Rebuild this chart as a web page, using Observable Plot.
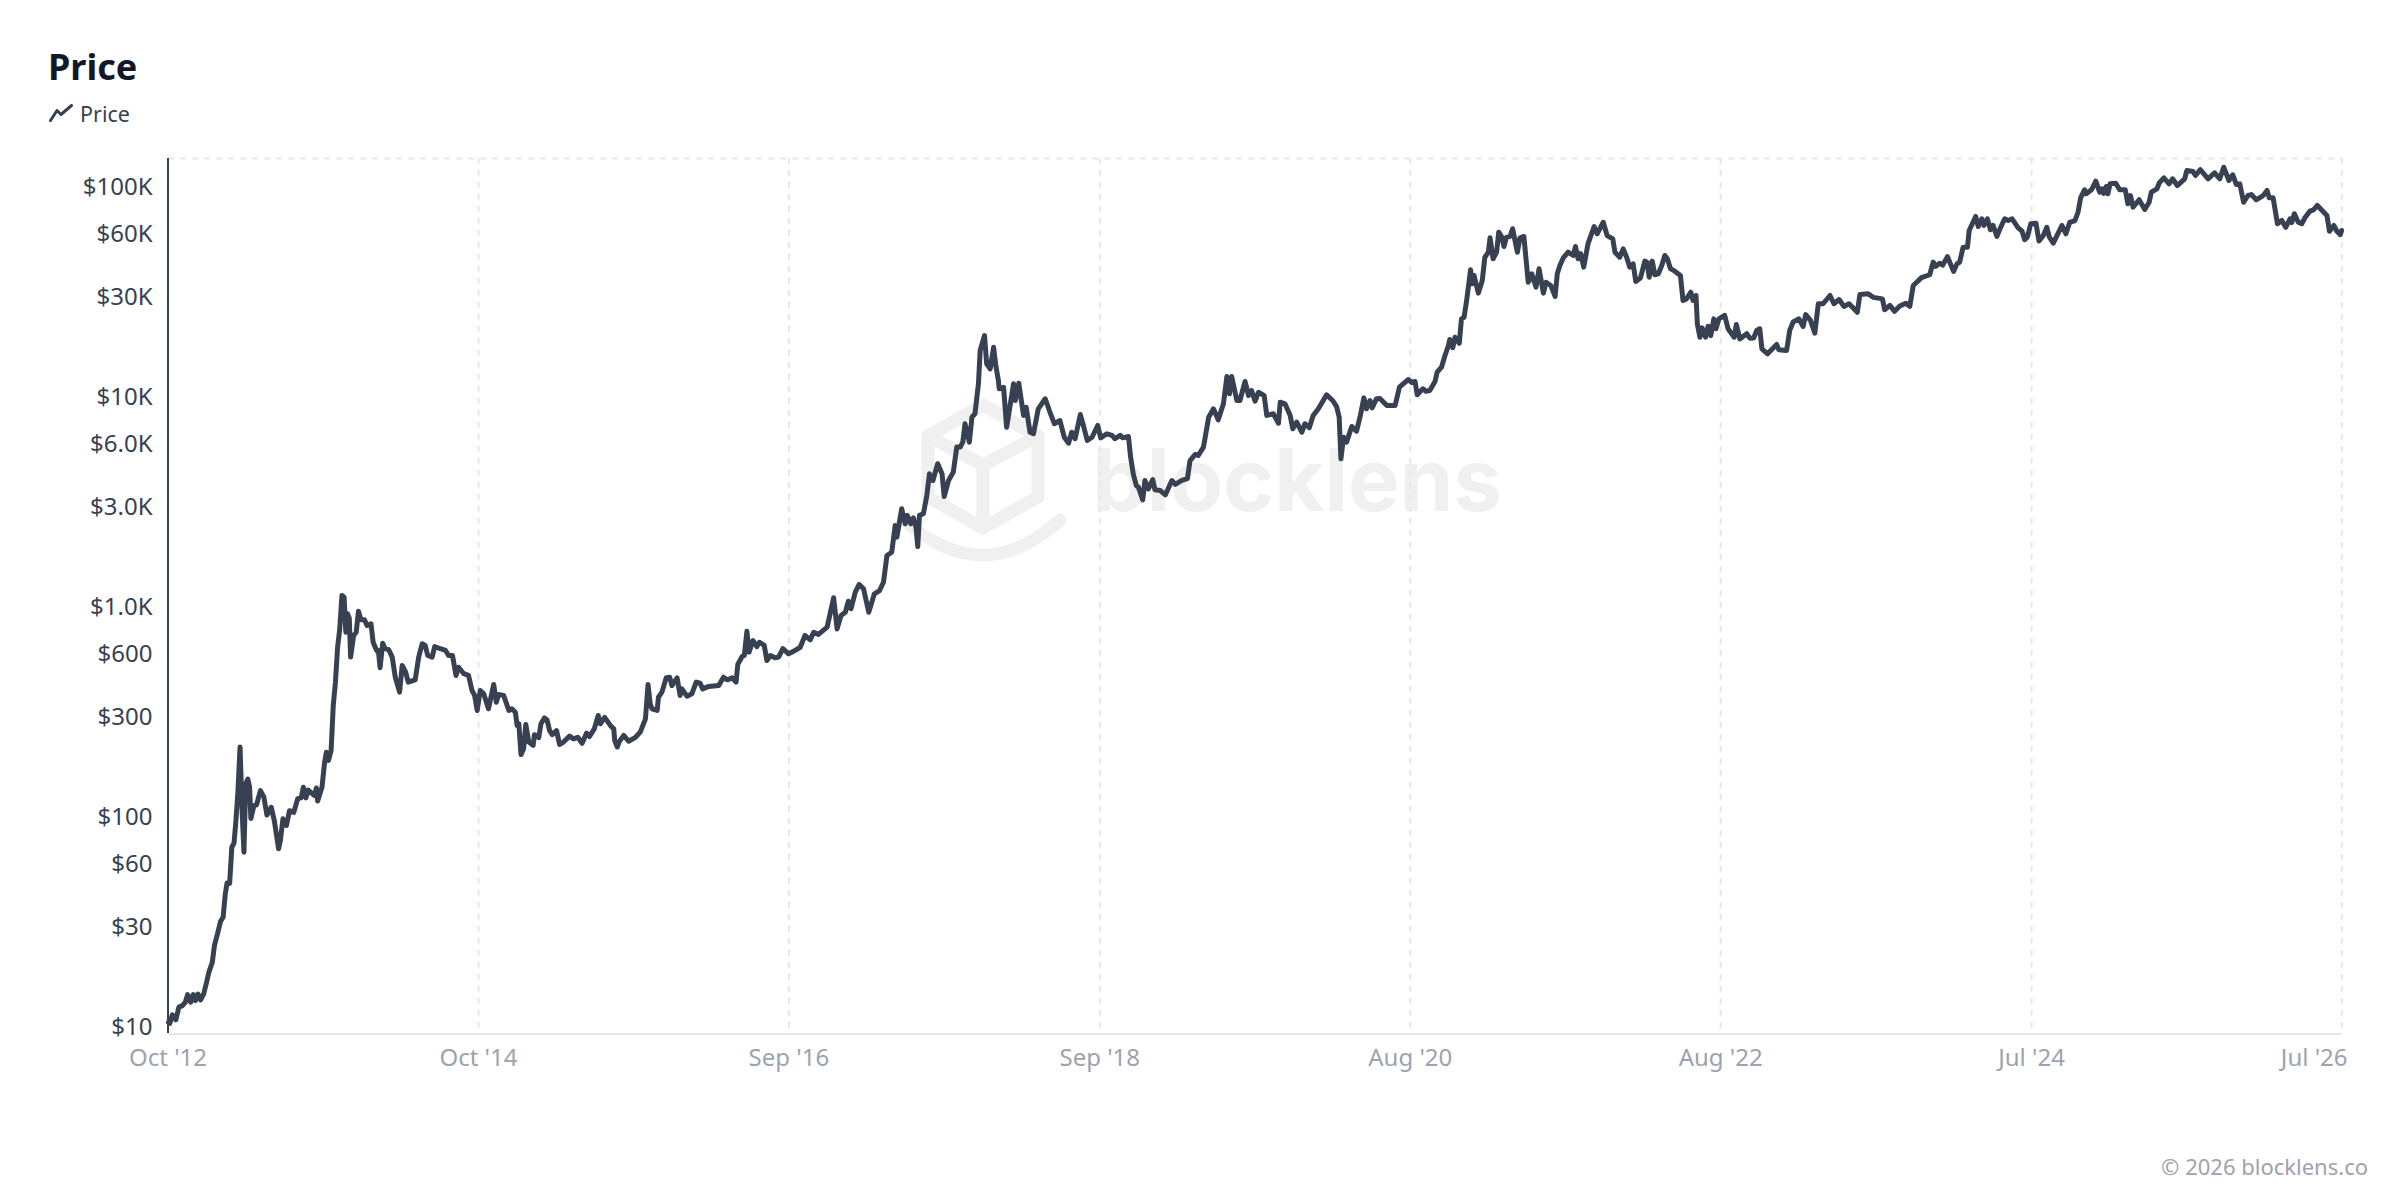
<!DOCTYPE html>
<html>
<head>
<meta charset="utf-8">
<script src="https://cdn.jsdelivr.net/npm/d3@7"></script>
<script src="https://cdn.jsdelivr.net/npm/@observablehq/plot@0.6"></script>
<style>
  html, body { margin: 0; padding: 0; background: #fff; }
  body { position: relative; width: 2400px; height: 1200px; overflow: hidden; font-family: "Noto Sans", sans-serif; }
  #head { position: relative; height: 100px; width: 2400px; }
  #title { position: absolute; left: 48px; top: 43px; font-size: 36px; line-height: 48px; font-weight: 700; color: #111827; }
  #legend { position: absolute; left: 49px; top: 97px; height: 32px; display: flex; align-items: center; color: #374151; font-size: 21.5px; }
  #legend svg { margin-right: 7px; }
  #mark { position: absolute; left: 0; top: 0; z-index: 0; }
  #chart { position: relative; z-index: 1; }
  #chart svg { background: transparent; }
  #foot { position: absolute; right: 32px; top: 1151px; font-size: 22px; line-height: 30px; color: #9ca3af; }
</style>
</head>
<body>
<svg id="mark" width="2400" height="1200" aria-hidden="true">
  <g fill="none" stroke="#f0f0f0" stroke-width="13" stroke-linejoin="round" stroke-linecap="round">
    <path d="M983 405 L1038 436 L1038 497 L983 528 L928 497 L928 436 Z"/>
    <path d="M928 436 L983 465 L1038 436 M983 465 L983 528"/>
    <path d="M904 520 Q983 590 1060 520"/>
  </g>
  <text x="1092" y="511" font-family="Inter" font-weight="700" font-size="86" fill="#f0f0f0" textLength="410" lengthAdjust="spacingAndGlyphs">blocklens</text>
</svg>
<div id="head">
  <div id="title">Price</div>
  <div id="legend"><svg width="24" height="18" viewBox="0 0 24 18"><polyline points="1.5,16.5 8,6.5 12,10.5 22.5,1.5" fill="none" stroke="#374151" stroke-width="3" stroke-linecap="round" stroke-linejoin="round"/></svg><span>Price</span></div>
</div>
<div id="chart"></div>
<div id="foot">© 2026 blocklens.co</div>
<script>
const seriesStart = "2012-10-15";
const seriesEnd = "2026-07-08";
const priceMin = 9.21;
const priceMax = 135200;

const tickDates = ["2012-10-15","2014-10-01","2016-09-16","2018-09-03","2020-08-19","2022-08-05","2024-07-22","2026-07-08"];
const tickLabels = ["Oct '12","Oct '14","Sep '16","Sep '18","Aug '20","Aug '22","Jul '24","Jul '26"];
const priceTicks = [10,30,60,100,300,600,1000,3000,6000,10000,30000,60000,100000];
const priceLabels = ["$10","$30","$60","$100","$300","$600","$1.0K","$3.0K","$6.0K","$10K","$30K","$60K","$100K"];

const daysSinceStart = [
0,3,9,17,24,32,39,44,51,57,62,68,74,81,88,93,101,106,114,120,
126,131,135,141,146,151,155,160,165,170,174,178,183,187,190,197,203,212,220,227,
237,244,254,258,264,272,279,289,298,306,311,317,322,331,337,341,344,354,360,364,
369,375,380,385,390,395,400,405,409,413,417,420,427,433,438,444,452,458,467,472,
480,484,488,494,500,508,516,523,533,539,547,553,569,577,585,592,598,608,614,627,
639,646,655,663,669,681,692,700,706,712,719,727,738,750,756,761,773,785,792,800,
804,808,813,819,824,831,841,844,854,859,867,873,879,885,895,902,911,925,934,944,
954,964,971,982,991,996,1006,1019,1027,1029,1035,1040,1050,1061,1077,1088,1100,1106,1111,1115,
1127,1130,1138,1148,1156,1161,1173,1180,1184,1196,1207,1217,1226,1232,1246,1269,1280,1289,1300,1309,
1313,1323,1328,1334,1339,1348,1357,1363,1374,1380,1388,1399,1407,1417,1430,1445,1457,1468,1480,1488,
1499,1519,1525,1534,1542,1551,1561,1568,1574,1584,1593,1603,1615,1628,1640,1649,1657,1668,1676,1680,
1691,1699,1704,1712,1718,1724,1728,1732,1741,1749,1755,1763,1774,1784,1789,1799,1810,1818,1826,1832,
1837,1847,1853,1860,1868,1872,1882,1887,1895,1903,1908,1914,1916,1926,1933,1949,1953,1961,1972,1978,
1987,1995,2006,2022,2033,2043,2056,2066,2076,2083,2091,2103,2110,2119,2130,2143,2150,2164,2176,2183,
2195,2201,2214,2219,2225,2232,2237,2247,2252,2260,2270,2275,2287,2299,2314,2322,2337,2350,2356,2368,
2375,2387,2395,2399,2410,2421,2433,2441,2447,2452,2464,2471,2483,2491,2498,2506,2514,2527,2533,2548,
2560,2564,2575,2587,2593,2602,2614,2621,2631,2640,2652,2671,2685,2694,2700,2704,2710,2717,2729,2740,
2748,2757,2763,2771,2776,2786,2794,2810,2829,2839,2859,2867,2875,2880,2893,2900,2909,2921,2926,2936,
2944,2952,2955,2962,2967,2977,2982,2988,2994,3003,3007,3011,3021,3030,3036,3044,3048,3055,3063,3068,
3075,3080,3086,3094,3100,3111,3117,3126,3136,3144,3154,3161,3171,3177,3188,3198,3203,3209,3217,3228,
3240,3245,3251,3257,3264,3274,3288,3295,3309,3318,3331,3336,3347,3355,3363,3370,3378,3384,3395,3405,
3410,3415,3422,3428,3436,3444,3451,3457,3464,3474,3487,3493,3501,3511,3516,3523,3526,3532,3537,3545,
3551,3557,3564,3569,3576,3589,3597,3611,3616,3624,3640,3647,3656,3663,3670,3675,3688,3709,3714,3732,
3739,3747,3760,3770,3776,3787,3797,3805,3816,3832,3841,3853,3864,3876,3895,3901,3920,3932,3953,3958,
3970,3981,3993,4007,4016,4024,4043,4062,4070,4076,4085,4092,4103,4117,4125,4131,4139,4149,4153,4168,
4174,4182,4187,4195,4202,4208,4217,4225,4235,4243,4252,4266,4275,4281,4287,4295,4307,4314,4324,4332,
4338,4347,4367,4376,4385,4397,4404,4410,4419,4423,4435,4445,4454,4459,4463,4469,4473,4478,4491,4500,
4513,4519,4525,4531,4545,4558,4568,4573,4586,4591,4602,4614,4622,4633,4650,4655,4669,4675,4686,4704,
4719,4731,4740,4752,4761,4769,4777,4786,4796,4804,4815,4831,4840,4845,4854,4864,4874,4883,4893,4897,
4903,4912,4920,4928,4939,4947,4956,4967,4978,4984,4994,5001,5009,5012
];

const prices = [
10.4,10.3,11.3,10.7,12.3,12.5,13.0,14.1,13.0,14.1,13.2,14.2,13.3,14.2,16.2,18.0,20.1,24.2,28.0,31.5,
33.0,42.6,47.9,47.7,71,74.1,92,130,213,103,67.2,142,150,137,97.3,112,113,132,123,101,
110,95,69.8,76.4,97,90.1,106,104,121,122,137,122,133,128,125,136,118,137,180,201,
184,205,336,434,636,778,1122,1101,750,918,872,571,724,750,945,860,860,808,823,672,
614,614,508,665,626,619,571,458,389,521,484,434,445,571,661,649,581,571,641,626,
614,581,581,467,511,476,467,396,375,318,396,382,324,423,348,379,375,318,324,312,
270,275,196,209,273,225,217,244,236,275,293,287,255,244,255,219,225,240,233,237,
222,248,239,260,301,275,295,270,260,229,213,227,242,227,237,251,290,423,342,324,
318,368,389,455,458,418,455,375,403,372,382,434,429,403,414,418,458,445,455,434,
527,575,581,759,603,685,641,672,649,550,581,567,571,626,592,614,636,724,690,750,
732,793,901,1094,778,901,934,1054,970,1163,1266,1208,934,1143,1185,1298,1740,1803,2420,2128,
2905,2463,2700,2463,2630,2370,1920,2700,2750,3360,4260,3960,4760,4260,3320,3960,4340,5710,5710,6030,
7380,6030,7930,8230,11430,16470,19400,14230,13470,17080,13970,11850,10820,11010,7100,11430,9520,11510,8080,8840,
6720,6610,8690,9700,8370,7380,7640,6360,5960,6720,6260,8160,7240,6140,6360,7240,6320,6610,6490,6260,
6490,6320,6410,5110,4260,3750,3680,3200,3960,3610,4000,3580,3550,3380,3960,3790,3960,4040,4930,5270,
5210,5710,7100,7930,8690,7700,9180,12380,10240,12380,9520,9520,11720,10050,10620,9450,10420,10050,8080,8230,
7420,9340,9180,8080,6980,7500,6720,7380,7060,8080,8690,10130,9520,8910,7930,5020,6360,6030,7160,6800,
7930,9800,8690,9520,8780,9700,9730,9010,9010,11010,11980,11600,11720,10130,10820,10540,10620,11720,12980,13710,
15590,17400,18580,16970,19050,17840,23300,23700,28500,39900,34200,37500,30900,35500,45800,48400,56700,45000,48400,60300,
57100,51500,57100,57500,62600,48400,56700,57500,34800,38200,33000,40400,30900,34800,33600,29800,38200,41800,45500,48400,
46700,51500,45000,47600,41100,53200,64100,59200,67200,58100,56000,48400,45800,50200,45800,41100,42600,35100,36600,43900,
43400,36800,43900,37800,38200,41800,46700,45000,40400,39300,37500,28500,29000,31200,28500,30100,22100,19050,21100,19050,
21500,19400,23300,20900,23300,24200,20900,19050,21900,18700,19800,18860,18900,20500,20900,16780,15890,17600,16590,16470,
20500,22500,23300,21430,24400,22900,19900,27500,27500,30100,27500,28800,26700,27500,25050,30470,30700,29500,29000,25750,
27000,25300,26800,27660,26700,33600,36600,37800,43400,41400,42900,42000,46100,39200,42600,43400,51100,51100,61400,71600,
64100,69800,64900,69800,61900,64900,57600,63200,69800,68500,69800,63200,60900,55500,57100,66100,66500,54700,58100,63600,
57100,53500,64900,59200,67200,68500,75000,87800,95900,91800,95900,105400,93400,97000,92300,99500,91800,102400,103100,95900,
95900,82300,90100,79300,86000,77300,83700,93400,97000,103100,109400,102400,108200,100500,108200,118500,117200,112200,119800,108200,
115600,108200,122900,106200,113100,101700,102400,83700,90100,91000,86000,90100,95200,87800,87800,66100,68500,63600,69800,67000,
73800,67200,66100,71000,75900,77000,80800,76400,72400,60900,64900,60900,58700,61400
];

const start = new Date(seriesStart);
const end = new Date(seriesEnd);
const dates = tickDates.map(d => new Date(d));
const table = daysSinceStart.map((d, i) => ({date: d3.utcDay.offset(start, d), price: prices[i]}));
const labelOf = d => tickLabels[dates.findIndex(t => +t === +d)];
const priceLabelOf = v => priceLabels[priceTicks.indexOf(v)];
const INK = "#374151", MUTED = "#9ca3af", GRID = "#e5e7eb", TICK = 24;

const chart = Plot.plot({
  width: 2400,
  height: 1000,
  marginLeft: 168,
  marginRight: 58,
  marginTop: 58,
  marginBottom: 67,
  style: {fontFamily: "'Noto Sans', sans-serif", background: "transparent"},
  x: {type: "utc", domain: [start, end]},
  y: {type: "log", domain: [priceMin, priceMax]},
  marks: [
    Plot.ruleX(dates, {stroke: GRID, strokeWidth: 2, strokeDasharray: "6 6", dx: -0.5}),
    Plot.ruleY([priceMax], {stroke: GRID, strokeWidth: 2, strokeDasharray: "6 6"}),
    Plot.ruleY([priceMin], {stroke: GRID, strokeWidth: 2, dy: 0.5}),
    Plot.ruleX([start], {stroke: INK, strokeWidth: 2, dx: -0.5}),
    Plot.axisY(priceTicks, {anchor: "left", label: null, tickSize: 0, tickPadding: 16, tickFormat: priceLabelOf, fontSize: TICK, color: INK, dy: 1.5}),
    Plot.axisX(dates.slice(0, -1), {anchor: "bottom", label: null, tickSize: 0, tickPadding: 15, tickFormat: labelOf, fontSize: TICK, color: MUTED, dx: -0.5}),
    Plot.axisX(dates.slice(-1), {anchor: "bottom", label: null, tickSize: 0, tickPadding: 15, tickFormat: labelOf, fontSize: TICK, color: MUTED, textAnchor: "end", dx: 5}),
    Plot.line(table, {x: "date", y: "price", stroke: INK, strokeWidth: 5, strokeLinejoin: "round", strokeLinecap: "round"})
  ]
});
document.getElementById("chart").appendChild(chart);
</script>
</body>
</html>
